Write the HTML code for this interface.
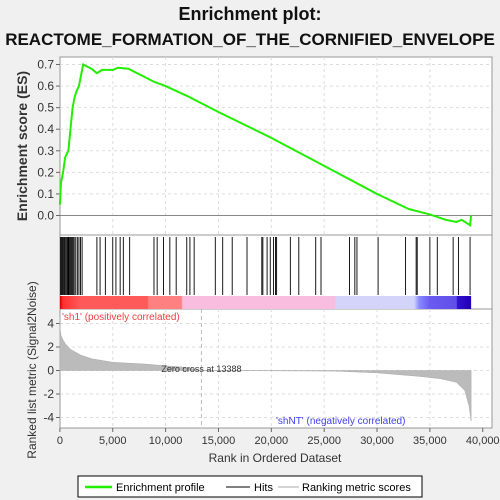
<!DOCTYPE html>
<html><head><meta charset="utf-8"><style>
body{margin:0;background:#f0f0f0;font-family:"Liberation Sans","DejaVu Sans",sans-serif;}
svg{display:block}
</style></head><body>
<svg id="c" width="500" height="500" xmlns="http://www.w3.org/2000/svg">
<rect width="500" height="500" fill="#f0f0f0"/>
<text x="250" y="20" text-anchor="middle" font-size="18" font-weight="bold" fill="#111">Enrichment plot:</text>
<text x="250" y="45" text-anchor="middle" font-size="17" font-weight="bold" fill="#111">REACTOME_FORMATION_OF_THE_CORNIFIED_ENVELOPE</text>
<g id="g"></g>
</svg>
<script>
const esRanks=[0,100,300,500,800,1000,1200,1400,1600,1800,2000,2200,3000,3500,4000,5000,5500,6500,8900,10000,12000,15000,20000,25000,30000,33000,33800,35000,36500,37500,38000,38800,38900];
const esValues=[0.05,0.15,0.2,0.27,0.3,0.4,0.5,0.55,0.58,0.6,0.65,0.70,0.68,0.66,0.675,0.675,0.685,0.68,0.62,0.6,0.555,0.48,0.36,0.23,0.1,0.03,0.02,0.005,-0.02,-0.03,-0.02,-0.045,0.0];
const hits=[50,150,250,350,420,500,600,700,780,850,950,1050,1150,1250,1350,1500,1650,1800,1950,2100,3500,3800,4300,5000,5300,5700,6000,6600,8900,9200,9800,10400,11000,12000,12300,12700,14700,15400,16300,17700,19100,19200,19600,19900,20200,20400,20500,21800,22600,24200,24700,27400,27900,28100,30100,32700,33700,33800,35000,35700,37200,37700,38800];
const metricRanks=[0,30,100,300,500,1000,2000,3000,5000,8000,10000,11500,13388,26000,30000,34000,36000,37500,38300,38700,38900];
const metricValues=[4.5,3.5,3,2.6,2.3,1.8,1.3,1.0,0.7,0.55,0.4,0.3,0,-0.05,-0.2,-0.5,-0.7,-1.0,-1.7,-3,-4.3];
const xTicks=[0,5000,10000,15000,20000,25000,30000,35000,40000];
const esTicks=[0,0.1,0.2,0.3,0.4,0.5,0.6,0.7];
const mTicks=[4,2,0,-2,-4];
const zeroCross=13388;

const NS="http://www.w3.org/2000/svg";
const g=document.getElementById('g');
const X=r=>59.9+r*0.010571;
const YE=v=>215.5-v*215.7;
const YM=v=>370.5-v*11.75;
const L=60,R=492;
function mk(t,a,txt){const e=document.createElementNS(NS,t);for(const k in a)e.setAttribute(k,a[k]);if(txt!==undefined)e.textContent=txt;g.appendChild(e);return e;}
let p=mk('rect',{x:L,y:57,width:R-L,height:178,fill:'#fff',stroke:'#999'});


p=mk('rect',{x:L,y:235,width:R-L,height:74,fill:'#fff',stroke:'#999'});


p=mk('rect',{x:L,y:309,width:R-L,height:119,fill:'#fff',stroke:'#999'});


xTicks.forEach(t=>{const x=X(t);
 if(t>0&&t<40000){mk('line',{x1:x,x2:x,y1:57,y2:235,stroke:'#ddd','stroke-dasharray':'3,3'});mk('line',{x1:x,x2:x,y1:309,y2:428,stroke:'#ddd','stroke-dasharray':'3,3'});}
 mk('line',{x1:x,x2:x,y1:428,y2:432,stroke:'#666'});
 const tl=mk('text',{x:x,y:444,'text-anchor':'middle','font-size':11,fill:'#333'},t.toLocaleString('en-US'));
 
 
});
esTicks.forEach(t=>{const y=YE(t);
 if(t>0)mk('line',{x1:L,x2:R,y1:y,y2:y,stroke:'#ddd','stroke-dasharray':'3,3'});
 mk('line',{x1:L-4,x2:L,y1:y,y2:y,stroke:'#666'});
 const tl=mk('text',{x:L-6,y:y+4,'text-anchor':'end','font-size':12,fill:'#333'},t.toFixed(1));
 
 
});
mk('line',{x1:L,x2:R,y1:YE(0),y2:YE(0),stroke:'#888'});
mTicks.forEach(t=>{const y=YM(t);
 mk('line',{x1:L,x2:R,y1:y,y2:y,stroke:'#ddd','stroke-dasharray':'3,3'});
 mk('line',{x1:L-4,x2:L,y1:y,y2:y,stroke:'#666'});
 const tl=mk('text',{x:L-6,y:y+4,'text-anchor':'end','font-size':12,fill:'#333'},t);
 
 
});
const defs=mk('defs',{});
const lg=document.createElementNS(NS,'linearGradient');lg.setAttribute('id','cb');defs.appendChild(lg);
const cbEnd=X(38900),cbW=cbEnd-L;
[[0,'#d00000'],[300,'#ff3030'],[2000,'#ff5a5a'],[8300,'#ff5a5a'],[8400,'#ff8080'],[11500,'#ff8080'],[11600,'#f9bde0'],[26000,'#f9bde0'],[26100,'#d4d4fa'],[33500,'#d4d4fa'],[34000,'#8888ff'],[35000,'#6a5af0'],[37500,'#6050e8'],[37600,'#3010d0'],[38900,'#2000b0']].forEach(s=>{const st=document.createElementNS(NS,'stop');st.setAttribute('offset',((X(s[0])-L)/cbW));st.setAttribute('stop-color',s[1]);lg.appendChild(st);});
p=mk('rect',{x:L,y:296,width:cbW,height:13,fill:'url(#cb)'});


hits.forEach(h=>{const x=X(h);const l=mk('line',{x1:x,x2:x,y1:237,y2:295,stroke:'#000','stroke-width':0.9});
 
 });
let d='M'+X(metricRanks[0])+','+YM(0);
metricRanks.forEach((r,i)=>{d+=' L'+X(r)+','+YM(metricValues[i]);});
d+=' L'+X(metricRanks[metricRanks.length-1])+','+YM(0)+' Z';
p=mk('path',{d:d,fill:'#bbb',stroke:'#aaa','stroke-width':0.5});


const zx=X(zeroCross);
mk('line',{x1:zx,x2:zx,y1:309,y2:428,stroke:'#bbb','stroke-dasharray':'4,3'});
p=mk('text',{x:zx-40,y:372,'font-size':9,fill:'#333'},'Zero cross at '+zeroCross);


p=mk('text',{x:62,y:320,'font-size':10,fill:'#f04040'},"'sh1' (positively correlated)");


p=mk('text',{x:276,y:424,'font-size':10,fill:'#4040f0'},"'shNT' (negatively correlated)");


const pts=esRanks.map((r,i)=>X(r)+','+YE(esValues[i])).join(' ');
p=mk('polyline',{points:pts,fill:'none',stroke:'#22ee00','stroke-width':2});


p=mk('text',{x:0,y:0,transform:'translate(27,146) rotate(-90)','text-anchor':'middle','font-size':14,'font-weight':'bold',fill:'#333'},'Enrichment score (ES)');


p=mk('text',{x:0,y:0,transform:'translate(36,370) rotate(-90)','text-anchor':'middle','font-size':12,fill:'#333'},'Ranked list metric (Signal2Noise)');


p=mk('text',{x:275,y:462,'text-anchor':'middle','font-size':12,fill:'#333'},'Rank in Ordered Dataset');


p=mk('rect',{x:78,y:476,width:344,height:21,fill:'#fff',stroke:'#000'});


mk('line',{x1:85,x2:112,y1:487,y2:487,stroke:'#22ee00','stroke-width':2.5});
p=mk('text',{x:116,y:491,'font-size':11,fill:'#000'},'Enrichment profile');


mk('line',{x1:226,x2:250,y1:487,y2:487,stroke:'#000','stroke-width':1});
p=mk('text',{x:254,y:491,'font-size':11,fill:'#000'},'Hits');


mk('line',{x1:278,x2:299,y1:487,y2:487,stroke:'#aaa','stroke-width':1});
p=mk('text',{x:302,y:491,'font-size':11,fill:'#000'},'Ranking metric scores');


</script>
</body></html>
